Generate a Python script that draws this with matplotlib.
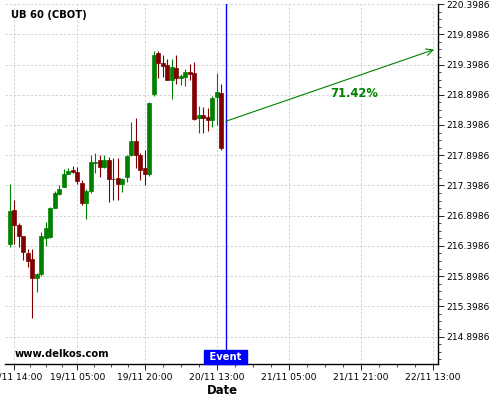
import matplotlib
matplotlib.use("Agg")
import matplotlib.pyplot as plt
import matplotlib.transforms as mtransforms
import numpy as np

# ---- data (candle index, OHLC) ----
idx = list(range(-1, 47))
opens = [216.43, 216.99, 216.74, 216.56, 216.28, 216.18, 215.87, 215.93, 216.53, 216.55,
         217.03, 217.26, 217.38, 217.59, 217.65, 217.62, 217.44, 217.10, 217.30, 217.77,
         217.82, 217.70, 217.82, 217.51, 217.53, 217.42, 217.54, 217.90, 218.13, 217.90,
         217.68, 217.58, 218.91, 219.59, 219.43, 219.39, 219.15, 219.34, 219.17, 219.20,
         219.27, 219.26, 218.52, 218.56, 218.53, 218.48, 218.86, 218.92]
highs = [217.43, 217.15, 216.77, 216.56, 216.34, 216.34, 215.95, 216.63, 216.80, 217.05,
         217.31, 217.40, 217.67, 217.68, 217.72, 217.70, 217.49, 217.34, 217.91, 217.93,
         217.90, 217.91, 217.87, 217.85, 217.85, 217.52, 217.90, 218.44, 218.52, 217.93,
         217.99, 218.78, 219.63, 219.62, 219.56, 219.49, 219.49, 219.56, 219.25, 219.33,
         219.40, 219.44, 218.72, 218.69, 218.68, 218.87, 219.26, 219.07]
lows = [216.38, 216.43, 216.38, 216.17, 216.05, 215.20, 215.64, 215.90, 216.39, 216.53,
        217.02, 217.24, 217.37, 217.58, 217.60, 217.42, 217.07, 216.84, 217.28, 217.61,
        217.54, 217.68, 217.12, 217.15, 217.16, 217.29, 217.46, 217.88, 217.68, 217.49,
        217.40, 217.56, 218.88, 219.18, 219.19, 219.14, 218.83, 219.08, 219.06, 219.04,
        219.15, 218.48, 218.27, 218.27, 218.30, 218.37, 218.40, 217.99]
closes = [216.98, 216.75, 216.57, 216.29, 216.15, 215.87, 215.93, 216.56, 216.69, 217.03,
          217.27, 217.34, 217.59, 217.64, 217.62, 217.48, 217.10, 217.30, 217.78, 217.78,
          217.70, 217.82, 217.51, 217.50, 217.42, 217.50, 217.88, 218.13, 217.90, 217.66,
          217.58, 218.76, 219.56, 219.43, 219.37, 219.15, 219.35, 219.17, 219.21, 219.27,
          219.24, 218.50, 218.56, 218.52, 218.48, 218.84, 218.95, 218.01]

tick_idx = [0, 14, 29, 45, 61, 77, 93]
tick_labels = ["18/11 14:00", "19/11 05:00", "19/11 20:00", "20/11 13:00",
               "21/11 05:00", "21/11 21:00", "22/11 13:00"]
ytick_vals = [214.8986, 215.3986, 215.8986, 216.3986, 216.8986, 217.3986,
              217.8986, 218.3986, 218.8986, 219.3986, 219.8986, 220.3986]

event_idx = 47
arrow_start = (47, 218.46)
arrow_end = (93.27, 219.646)
pct_text = "71.42%"
pct_pos = (75.5, 218.92)

GREEN = "#008000"
RED = "#800000"

fig = plt.figure(figsize=(5, 4), dpi=100)
ax = fig.add_axes([0.01, 0.09, 0.866, 0.90])

for i, o, h, l, c in zip(idx, opens, highs, lows, closes):
    col = GREEN if c >= o else RED
    ax.vlines(i, l, h, color=col, lw=0.8, zorder=3)
    bot = min(o, c)
    ht = max(abs(c - o), 0.01)
    ax.bar(i, ht, bottom=bot, width=0.9, color=col, edgecolor=col, lw=0.5, zorder=4)

ax.set_xlim(-2.07, 94.16)
ax.set_ylim(214.445, 220.40)

# event line
ax.axvline(event_idx, color="blue", lw=1.0, zorder=5)
trans = mtransforms.blended_transform_factory(ax.transData, ax.transAxes)
ax.text(event_idx, 0.02, " Event ", transform=trans, ha="center", va="center",
        color="white", fontsize=7.2, fontweight="bold", zorder=6,
        bbox=dict(boxstyle="square,pad=0.2", facecolor="blue", edgecolor="blue"))

# arrow + percent
ax.annotate("", xy=arrow_end, xytext=arrow_start,
            arrowprops=dict(arrowstyle="->", color=GREEN, lw=0.8,
                            shrinkA=0, shrinkB=0, mutation_scale=12), zorder=6)
ax.text(pct_pos[0], pct_pos[1], pct_text, color=GREEN, fontsize=8.3,
        fontweight="bold", ha="center", va="center", zorder=6)

# ticks
ax.set_xticks(tick_idx)
ax.set_xticklabels(tick_labels, fontsize=6.6)
minor_x = []
for a, b in zip(tick_idx[:-1], tick_idx[1:]):
    for f in (0.25, 0.5, 0.75):
        minor_x.append(a + (b - a) * f)
ax.set_xticks(minor_x, minor=True)

ax.yaxis.tick_right()
ax.set_yticks(ytick_vals)
ax.set_yticklabels(["%.4f" % v for v in ytick_vals], fontsize=6.6)
minor_y = []
for a in ytick_vals:
    for f in (0.125, 0.25, 0.375):
        minor_y.append(a - f)
ax.set_yticks(minor_y, minor=True)

ax.tick_params(axis="both", which="major", length=4, width=0.6, pad=2, colors="black")
ax.tick_params(axis="both", which="minor", length=2.5, width=0.5)

ax.grid(True, which="major", color="#cfcfcf", linestyle=(0, (3, 2)), lw=0.6)
ax.set_axisbelow(True)

for s in ("left", "top"):
    ax.spines[s].set_visible(False)
for s in ("right", "bottom"):
    ax.spines[s].set_linewidth(1.0)

fig.text(11 / 500, (400 - 15) / 400, "UB 60 (CBOT)", fontsize=7.2,
         fontweight="bold", va="center", ha="left")
fig.text(15 / 500, (400 - 354) / 400, "www.delkos.com", fontsize=7.2,
         fontweight="bold", va="center", ha="left")
fig.text(222 / 500, (400 - 390) / 400, "Date", fontsize=8.4,
         fontweight="bold", va="center", ha="center")

fig.savefig("out.png", dpi=100)
